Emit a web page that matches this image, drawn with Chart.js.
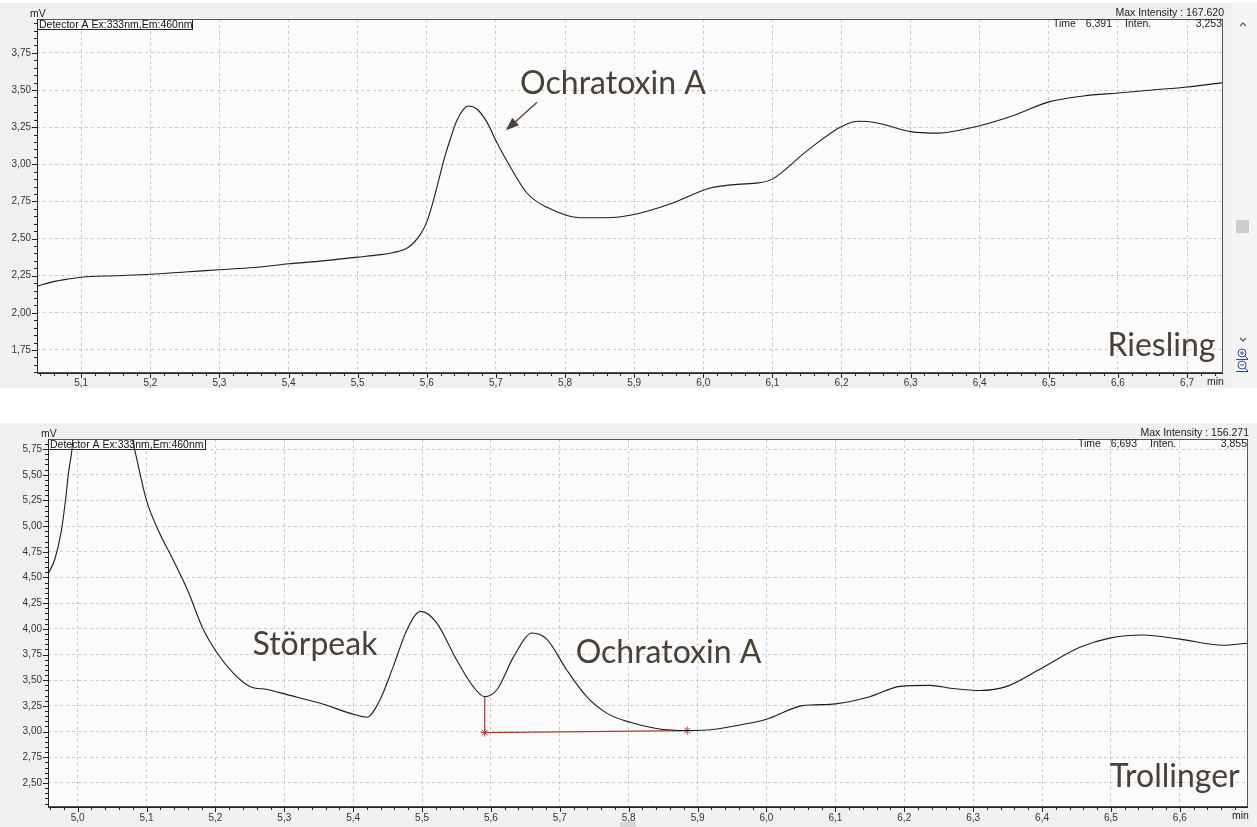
<!DOCTYPE html>
<html>
<head>
<meta charset="utf-8">
<title>Ochratoxin A chromatograms</title>
<script src="https://cdn.jsdelivr.net/npm/chart.js@4.4.1/dist/chart.umd.min.js"></script>
<style>
body{margin:0;background:#fff;width:1257px;height:827px;overflow:hidden;position:relative}
canvas{position:absolute;left:0}
#riesling{top:3px}
#trollinger{top:423px}
</style>
</head>
<body>
<canvas id="riesling" width="1257" height="385"></canvas>
<canvas id="trollinger" width="1257" height="404"></canvas>
<script>
'use strict'

// Riesling (top panel), time in min, signal in mV
var rieslingTime = [5.036, 5.06, 5.08, 5.1, 5.15, 5.2, 5.25, 5.3, 5.35, 5.4, 5.45, 5.5, 5.53, 5.55, 5.573, 5.59, 5.6, 5.609, 5.619, 5.626, 5.634, 5.643, 5.653, 5.66, 5.672, 5.687, 5.701, 5.718, 5.745, 5.774, 5.822, 5.86, 5.898, 5.956, 6.01, 6.049, 6.08, 6.1, 6.15, 6.2, 6.225, 6.25, 6.3, 6.34, 6.4, 6.45, 6.5, 6.55, 6.6, 6.65, 6.7, 6.752]
var rieslingSignal = [2.18, 2.21, 2.227, 2.24, 2.25, 2.26, 2.275, 2.29, 2.305, 2.33, 2.35, 2.375, 2.39, 2.405, 2.44, 2.523, 2.612, 2.747, 2.926, 3.05, 3.17, 3.29, 3.37, 3.392, 3.374, 3.284, 3.15, 3.005, 2.805, 2.71, 2.64, 2.64, 2.66, 2.74, 2.84, 2.865, 2.875, 2.9, 3.09, 3.255, 3.29, 3.28, 3.22, 3.21, 3.26, 3.33, 3.42, 3.46, 3.48, 3.50, 3.52, 3.55]
var rieslingXTicks = [5.1, 5.2, 5.3, 5.4, 5.5, 5.6, 5.7, 5.8, 5.9, 6.0, 6.1, 6.2, 6.3, 6.4, 6.5, 6.6, 6.7]
var rieslingYTicks = [1.75, 2.00, 2.25, 2.50, 2.75, 3.00, 3.25, 3.50, 3.75]

// Trollinger (bottom panel)
var trollingerTime = [4.957, 4.967, 4.976, 4.982, 4.987, 4.992, 5.0, 5.035, 5.07, 5.08, 5.086, 5.1, 5.117, 5.138, 5.16, 5.182, 5.202, 5.226, 5.25, 5.275, 5.304, 5.35, 5.4, 5.42, 5.439, 5.458, 5.478, 5.498, 5.521, 5.55, 5.574, 5.591, 5.609, 5.633, 5.66, 5.681, 5.71, 5.739, 5.768, 5.802, 5.84, 5.884, 5.922, 5.958, 6.0, 6.05, 6.07, 6.1, 6.15, 6.194, 6.237, 6.27, 6.31, 6.349, 6.4, 6.455, 6.498, 6.546, 6.6, 6.662, 6.699]
var trollingerSignal = [4.53, 4.68, 4.94, 5.23, 5.53, 5.76, 6.5, 7.6, 6.5, 5.85, 5.65, 5.25, 4.96, 4.68, 4.37, 4.0, 3.77, 3.57, 3.44, 3.41, 3.36, 3.28, 3.17, 3.14, 3.31, 3.63, 3.99, 4.17, 4.06, 3.70, 3.44, 3.34, 3.41, 3.73, 3.96, 3.90, 3.60, 3.34, 3.18, 3.09, 3.03, 3.01, 3.02, 3.06, 3.12, 3.25, 3.26, 3.27, 3.34, 3.44, 3.45, 3.42, 3.40, 3.44, 3.62, 3.82, 3.91, 3.94, 3.90, 3.84, 3.86]
var trollingerXTicks = [5.0, 5.1, 5.2, 5.3, 5.4, 5.5, 5.6, 5.7, 5.8, 5.9, 6.0, 6.1, 6.2, 6.3, 6.4, 6.5, 6.6]
var trollingerYTicks = [2.50, 2.75, 3.00, 3.25, 3.50, 3.75, 4.00, 4.25, 4.50, 4.75, 5.00, 5.25, 5.50, 5.75]
// integration baseline drawn under the Ochratoxin A peak
var baselineTime = [5.591, 5.591, 5.885]
var baselineSignal = [3.34, 2.99, 3.01]

var inkColor = "#4a4037"
var bigFont = "32px Lato, 'Open Sans', sans-serif"
var smallFont = "10.5px 'Liberation Sans', Arial, sans-serif"

function toPoints(xs, ys){
    var pts = []
    for(let i = 0; i < xs.length; i++){
        pts.push({x: xs[i], y: ys[i]})
    }
    return pts
}

function comma(v, digits){
    return v.toFixed(digits).replace(".", ",")
}

function drawArrow(ctx, x1, y1, x2, y2){
    var ang = Math.atan2(y2 - y1, x2 - x1)
    ctx.beginPath()
    ctx.moveTo(x1, y1)
    ctx.lineTo(x2 - 8 * Math.cos(ang), y2 - 8 * Math.sin(ang))
    ctx.stroke()
    ctx.beginPath()
    ctx.moveTo(x2, y2)
    ctx.lineTo(x2 - 13 * Math.cos(ang) + 5 * Math.sin(ang), y2 - 13 * Math.sin(ang) - 5 * Math.cos(ang))
    ctx.lineTo(x2 - 13 * Math.cos(ang) - 5 * Math.sin(ang), y2 - 13 * Math.sin(ang) + 5 * Math.cos(ang))
    ctx.closePath()
    ctx.fill()
}

function magnifier(ctx, x, y, plus){
    ctx.save()
    ctx.strokeStyle = "#2b45b5"
    ctx.fillStyle = "#fff"
    ctx.lineWidth = 1
    ctx.beginPath()
    ctx.arc(x, y, 4, 0, Math.PI * 2)
    ctx.fill()
    ctx.stroke()
    ctx.beginPath()
    ctx.moveTo(x - 2, y); ctx.lineTo(x + 2, y)
    if(plus){ ctx.moveTo(x, y - 2); ctx.lineTo(x, y + 2) }
    ctx.moveTo(x + 3, y + 3); ctx.lineTo(x + 6, y + 6)
    ctx.moveTo(x - 6, y + 6.5); ctx.lineTo(x + 6, y + 6.5)
    ctx.stroke()
    ctx.restore()
}

// draws the instrument-software look around the plot: frame, ticks, header texts, labels
function panelPlugin(info){
    return {
        id: "panel",
        beforeDraw: function(chart){
            var ctx = chart.ctx, a = chart.chartArea
            ctx.save()
            ctx.fillStyle = "#f0f0f0"
            ctx.fillRect(0, 0, chart.width, chart.height)
            ctx.fillStyle = "#fbfbfb"
            ctx.fillRect(a.left, a.top, a.right - a.left, a.bottom - a.top)
            ctx.restore()
        },
        beforeDatasetsDraw: function(chart){
            var ctx = chart.ctx, a = chart.chartArea
            ctx.save()
            ctx.strokeStyle = "#222"
            ctx.lineWidth = 1
            ctx.strokeRect(a.left + 0.5, a.top + 0.5, info.boxWidth, 10)
            ctx.font = "10.5px 'Liberation Sans', Arial, sans-serif"
            ctx.fillStyle = "#111"
            ctx.textBaseline = "middle"
            ctx.fillText("Detector A Ex:333nm,Em:460nm", a.left + 2, a.top + 6)
            ctx.restore()
        },
        afterDraw: function(chart){
            var ctx = chart.ctx, a = chart.chartArea
            var xs = chart.scales.x, ys = chart.scales.y
            ctx.save()
            // frame
            ctx.strokeStyle = "#555"
            ctx.lineWidth = 1
            ctx.strokeRect(a.left + 0.5, a.top + 0.5, a.right - a.left - 1, a.bottom - a.top - 1)
            ctx.strokeStyle = "#222"
            ctx.beginPath()
            ctx.moveTo(a.left + 0.5, a.top); ctx.lineTo(a.left + 0.5, a.bottom + 0.5)
            ctx.lineTo(a.right, a.bottom + 0.5)
            ctx.stroke()
            // ticks
            ctx.beginPath()
            var step = 0.02
            for(let v = Math.ceil(xs.min / step) * step; v <= xs.max; v += step){
                var px = Math.round(xs.getPixelForValue(v)) + 0.5
                var major = Math.abs(v * 10 - Math.round(v * 10)) < 0.01
                ctx.moveTo(px, a.bottom); ctx.lineTo(px, a.bottom + (major ? 5 : 3))
            }
            step = 0.05
            for(let v = Math.ceil(ys.min / step) * step; v <= ys.max; v += step){
                var py = Math.round(ys.getPixelForValue(v)) + 0.5
                var majorY = Math.abs(v * 4 - Math.round(v * 4)) < 0.01
                ctx.moveTo(a.left, py); ctx.lineTo(a.left - (majorY ? 5 : 3), py)
            }
            ctx.stroke()
            // header texts
            ctx.font = smallFont
            ctx.fillStyle = "#222"
            ctx.textBaseline = "middle"
            ctx.fillText("mV", a.left - 7, a.top - 5)
            ctx.fillText("min", a.right - 16, a.bottom + 9)
            ctx.textAlign = "right"
            ctx.fillText("Max Intensity : " + info.maxIntensity, a.right + 1, a.top - 6)
            ctx.fillText(info.time, a.right - 111, a.top + 5)
            ctx.fillText(info.inten, a.right - 1, a.top + 5)
            ctx.textAlign = "left"
            ctx.fillText("Time", a.right - 170, a.top + 5)
            ctx.fillText("Inten.", a.right - 98, a.top + 5)
            // annotations
            ctx.font = bigFont
            ctx.fillStyle = inkColor
            ctx.textBaseline = "alphabetic"
            for(let i = 0; i < info.labels.length; i++){
                var l = info.labels[i]
                ctx.textAlign = l.align
                ctx.fillText(l.text, xs.getPixelForValue(l.x), ys.getPixelForValue(l.y))
            }
            if(info.arrow){
                ctx.strokeStyle = inkColor
                ctx.lineWidth = 1.3
                drawArrow(ctx, xs.getPixelForValue(info.arrow[0]), ys.getPixelForValue(info.arrow[1]),
                    xs.getPixelForValue(info.arrow[2]), ys.getPixelForValue(info.arrow[3]))
            }
            // window controls
            if(info.scrollbar){
                ctx.fillStyle = "#f5f5f5"
                ctx.fillRect(1232, 0, 25, chart.height)
                ctx.fillStyle = "#cdcdcd"
                ctx.fillRect(1236, 217, 13, 13)
                ctx.strokeStyle = "#555"
                ctx.lineWidth = 1.2
                ctx.beginPath()
                ctx.moveTo(1240, 23); ctx.lineTo(1243, 20); ctx.lineTo(1246, 23)
                ctx.moveTo(1240, 335); ctx.lineTo(1243, 338); ctx.lineTo(1246, 335)
                ctx.stroke()
                magnifier(ctx, 1242, 350, true)
                magnifier(ctx, 1242, 362, false)
            } else {
                ctx.fillStyle = "#d6d6d6"
                ctx.fillRect(620, 399, 16, 5)
            }
            ctx.restore()
        }
    }
}

function makeChart(id, info){
    var canvas = document.getElementById(id)
    var datasets = [{
        data: toPoints(info.time_, info.signal),
        borderColor: "#1c1c1c",
        borderWidth: 1.1,
        pointRadius: 0,
        cubicInterpolationMode: "monotone"
    }]
    if(info.baseline){
        datasets.push({
            data: info.baseline,
            borderColor: "#b53a34",
            borderWidth: 1.2,
            pointStyle: "star",
            pointRadius: [0, 4, 4],
            pointBorderColor: "#b53a34",
            pointBorderWidth: 1,
            tension: 0
        })
    }
    return new Chart(canvas.getContext("2d"), {
        type: "line",
        data: {datasets: datasets},
        plugins: [panelPlugin(info)],
        options: {
            responsive: false,
            animation: false,
            events: [],
            layout: {padding: {top: 16, right: info.rightPad, left: 0, bottom: 0}},
            plugins: {legend: {display: false}, tooltip: {enabled: false}},
            scales: {
                x: {
                    type: "linear",
                    min: info.xMin,
                    max: info.xMax,
                    afterBuildTicks: function(scale){ scale.ticks = info.xTicks.map(function(v){ return {value: v} }) },
                    afterFit: function(scale){ scale.height = info.xHeight },
                    grid: {color: "#cacaca", drawTicks: false},
                    border: {display: false, dash: [3, 3]},
                    ticks: {
                        autoSkip: false, maxRotation: 0, padding: info.xPad, color: "#333",
                        font: {family: "'Liberation Sans', Arial, sans-serif", size: 10},
                        callback: function(v){ return comma(v, 1) }
                    }
                },
                y: {
                    type: "linear",
                    min: info.yMin,
                    max: info.yMax,
                    afterBuildTicks: function(scale){ scale.ticks = info.yTicks.map(function(v){ return {value: v} }) },
                    afterFit: function(scale){ scale.width = info.yWidth },
                    grid: {color: "#cacaca", drawTicks: false},
                    border: {display: false, dash: [3, 3]},
                    ticks: {
                        autoSkip: false, padding: 6, color: "#333",
                        font: {family: "'Liberation Sans', Arial, sans-serif", size: 10},
                        callback: function(v){ return comma(v, 2) }
                    }
                }
            }
        }
    })
}

makeChart("riesling", {
    time_: rieslingTime, signal: rieslingSignal,
    xTicks: rieslingXTicks, yTicks: rieslingYTicks,
    xMin: 5.036, xMax: 6.752, yMin: 1.595, yMax: 3.978,
    yWidth: 37, xHeight: 15, xPad: 4, rightPad: 34, boxWidth: 155,
    maxIntensity: "167.620", time: "6,391", inten: "3,253",
    labels: [
        {text: "Ochratoxin A", x: 5.735, y: 3.47, align: "left"},
        {text: "Riesling", x: 6.741, y: 1.71, align: "right"}
    ],
    arrow: [5.7595, 3.417, 5.7145, 3.229],
    scrollbar: true
})

makeChart("trollinger", {
    time_: trollingerTime, signal: trollingerSignal,
    baseline: toPoints(baselineTime, baselineSignal),
    xTicks: trollingerXTicks, yTicks: trollingerYTicks,
    xMin: 4.957, xMax: 6.699, yMin: 2.266, yMax: 5.848,
    yWidth: 48, xHeight: 20, xPad: 5, rightPad: 9, boxWidth: 157,
    maxIntensity: "156.271", time: "6,693", inten: "3,855",
    labels: [
        {text: "Störpeak", x: 5.254, y: 3.75, align: "left"},
        {text: "Ochratoxin A", x: 5.723, y: 3.672, align: "left"},
        {text: "Trollinger", x: 6.687, y: 2.461, align: "right"}
    ],
    arrow: null,
    scrollbar: false
})
</script>
</body>
</html>
